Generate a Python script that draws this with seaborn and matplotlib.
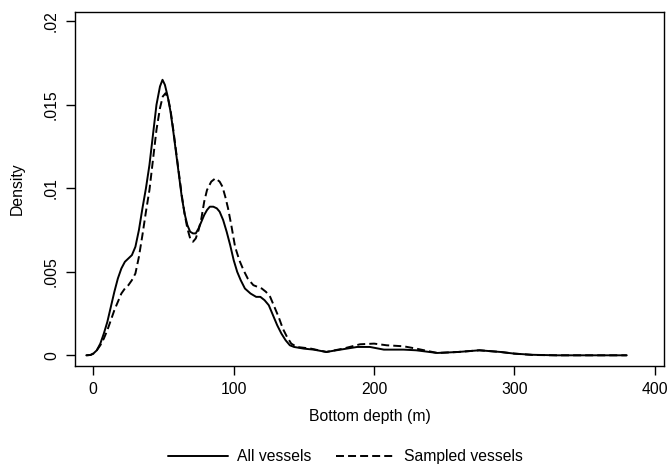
import matplotlib
matplotlib.use("Agg")
import matplotlib.pyplot as plt
import seaborn as sns
import pandas as pd
from matplotlib.ticker import FixedLocator
from matplotlib.lines import Line2D

# Bottom depth (m) and kernel density values
depth_all = [-5, -2, 0, 2.5, 5, 7.5, 10, 12.5, 15, 17.5, 20, 22.5, 25, 27.5, 30, 32.5,
             35, 37.5, 40, 42.5, 45, 47.5, 49.3, 51, 53, 55, 57, 59, 61, 63, 65, 67,
             69, 71, 73, 75, 77, 79, 81, 83, 85.5, 88, 90, 92.5, 95, 97.5, 100, 102.5,
             105, 108, 112, 116, 119, 122, 125, 128, 131, 134, 137, 140, 143, 150, 157,
             166, 176, 188, 197, 207, 221, 230, 245, 260, 275, 290, 300, 313, 330, 350,
             380]
density_all = [0.0, 0.00002, 0.0001, 0.0003, 0.0007, 0.0013, 0.0020, 0.0029, 0.0038,
               0.0046, 0.0052, 0.0056, 0.0058, 0.0060, 0.0065, 0.0075, 0.0088, 0.0100,
               0.0114, 0.0132, 0.0150, 0.0161, 0.0165, 0.0162, 0.0155, 0.0146, 0.0134,
               0.0121, 0.0108, 0.0095, 0.0085, 0.0078, 0.0074, 0.0073, 0.0073, 0.0076,
               0.0080, 0.0084, 0.0087, 0.0089, 0.0089, 0.0088, 0.0086, 0.0081, 0.0074,
               0.0066, 0.0057, 0.0050, 0.0045, 0.0040, 0.0037, 0.0035, 0.0035, 0.0033,
               0.0030, 0.0024, 0.0018, 0.0013, 0.0009, 0.0006, 0.0005, 0.0004, 0.00034,
               0.0002, 0.00034, 0.0005, 0.0005, 0.00034, 0.00034, 0.0003, 0.00014,
               0.0002, 0.0003, 0.0002, 0.0001, 0.00003, 0.0, 0.0, 0.0]

depth_sampled = [-5, -2, 0, 2.5, 5, 7.5, 10, 12.5, 15, 17.5, 20, 22.5, 25, 27.5, 30,
                 32.5, 35, 37.5, 40, 42.5, 45, 47.5, 49.5, 51.5, 53.5, 55, 57, 59, 61,
                 63, 65, 67, 69, 71, 73, 75, 77, 79, 81, 84, 87, 90, 92, 94, 96, 98.5,
                 101, 104, 107, 110, 114, 117, 120, 123, 126, 129, 132, 135, 138, 141,
                 145, 155, 166, 178, 190, 200, 209, 221, 230, 245, 260, 275, 290, 300,
                 313, 330, 350, 380]
density_sampled = [0.0, 0.00002, 0.0001, 0.0003, 0.0006, 0.0010, 0.0015, 0.0021, 0.0027,
                   0.0032, 0.0037, 0.0040, 0.0042, 0.0045, 0.0049, 0.0059, 0.0072,
                   0.0086, 0.0099, 0.0117, 0.0135, 0.0148, 0.0155, 0.0157, 0.0153,
                   0.0147, 0.0135, 0.0122, 0.0109, 0.0096, 0.0085, 0.0076, 0.0070,
                   0.0068, 0.0070, 0.0075, 0.0082, 0.0092, 0.0099, 0.0104, 0.0106,
                   0.0104, 0.0101, 0.0095, 0.0088, 0.0077, 0.0065, 0.0057, 0.0051,
                   0.0046, 0.0042, 0.0041, 0.0040, 0.0038, 0.0035, 0.0029, 0.0023,
                   0.0016, 0.0011, 0.0007, 0.0005, 0.0004, 0.0002, 0.0004, 0.00066,
                   0.0007, 0.0006, 0.00054, 0.0004, 0.00014, 0.0002, 0.0003, 0.0002,
                   0.0001, 0.00002, 0.0, 0.0, 0.0]

series_names = ["All vessels", "Sampled vessels"]
x_ticks = [0, 100, 200, 300, 400]
x_tick_labels = ["0", "100", "200", "300", "400"]
y_ticks = [0, 0.005, 0.01, 0.015, 0.02]
y_tick_labels = ["0", ".005", ".01", ".015", ".02"]

df = pd.concat([
    pd.DataFrame({"depth": depth_all, "density": density_all, "series": series_names[0]}),
    pd.DataFrame({"depth": depth_sampled, "density": density_sampled, "series": series_names[1]}),
])

sns.set_theme(style="white")
plt.rcParams["font.family"] = ["Liberation Sans", "DejaVu Sans"]
plt.rcParams["text.color"] = "black"
plt.rcParams["axes.labelcolor"] = "black"

FS = 11.3
LW = 1.4
DASH = (4.1, 2.1)

fig = plt.figure(figsize=(6.7, 4.68), dpi=100)
ax = fig.add_axes([0.112, 0.2169, 0.879, 0.758])

sns.lineplot(data=df, x="depth", y="density", hue="series", style="series",
             palette=["black", "black"], dashes={series_names[0]: "", series_names[1]: DASH},
             linewidth=LW, ax=ax, legend=False, sort=False)

ax.set_xlim(-13.0, 406.5)
ax.set_ylim(-0.00067, 0.020575)
ax.xaxis.set_major_locator(FixedLocator(x_ticks))
ax.set_xticklabels(x_tick_labels)
ax.yaxis.set_major_locator(FixedLocator(y_ticks))
ax.set_yticklabels(y_tick_labels, rotation=90, va="center")
ax.tick_params(axis="both", direction="out", length=6.5, width=1, color="black",
               labelsize=FS, labelcolor="black", bottom=True, left=True)
ax.tick_params(axis="x", pad=4.5)
ax.tick_params(axis="y", pad=5)
for s in ax.spines.values():
    s.set_color("black")
    s.set_linewidth(1)
ax.set_xlabel("Bottom depth (m)", fontsize=FS, color="black", labelpad=9)
ax.set_ylabel("Density", fontsize=FS, color="black", labelpad=14)
ax.grid(False)

handles = [Line2D([], [], color="black", lw=LW),
           Line2D([], [], color="black", lw=LW, dashes=DASH)]
leg = fig.legend(handles, series_names, loc="center", bbox_to_anchor=(0.516, 0.024), ncol=2,
                 frameon=False, fontsize=FS, handlelength=3.8, columnspacing=1.6,
                 handletextpad=0.56, borderpad=0, borderaxespad=0)
for t in leg.get_texts():
    t.set_color("black")

fig.savefig("out.png", dpi=100, facecolor="white")
